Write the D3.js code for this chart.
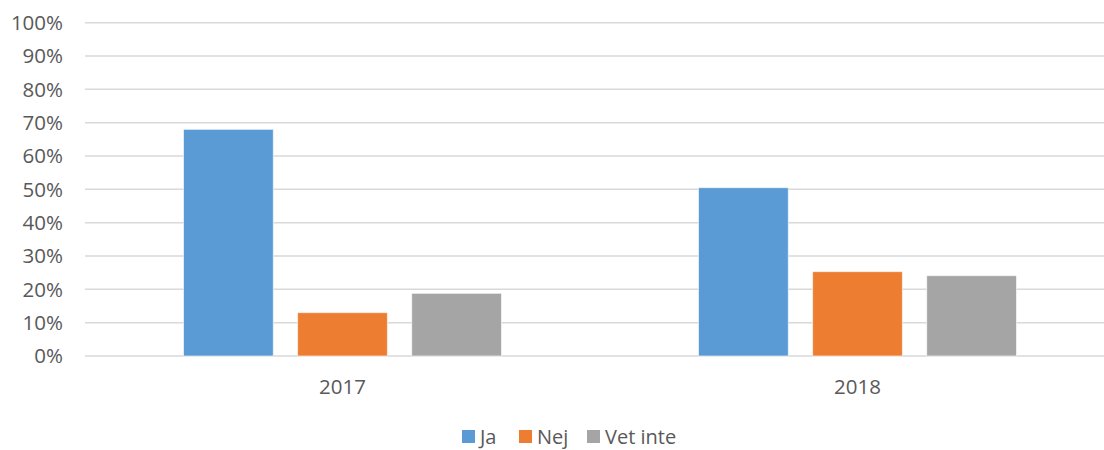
<!DOCTYPE html>
<meta charset="utf-8">
<style>
body { margin: 0; background: #fff; }
.axis text, .legend text { font-family: "Open Sans", sans-serif; fill: #595959; }
.grid line { stroke: #d9d9d9; stroke-width: 1.5px; }
</style>
<svg width="1104" height="450"></svg>
<script src="https://cdn.jsdelivr.net/npm/d3@7"></script>
<script>

var categories = ["2017", "2018"];
var series = ["Ja", "Nej", "Vet inte"];
var ja = [0.68, 0.505];
var nej = [0.13, 0.253];
var vetInte = [0.188, 0.241];
var yTicks = [0, 0.1, 0.2, 0.3, 0.4, 0.5, 0.6, 0.7, 0.8, 0.9, 1];
var colors = ["#5b9bd5", "#ed7d31", "#a5a5a5"];

var values = [ja, nej, vetInte];

var svg = d3.select("svg");

var y = d3.scaleLinear()
    .domain([0, 1])
    .range([356, 22.7]);

var x0 = d3.scaleBand()
    .domain(categories)
    .range([85, 1115]);

var x1 = d3.scaleBand()
    .domain(series)
    .range([98.5, x0.bandwidth() - 98.5])
    .paddingInner(0.213);

var color = d3.scaleOrdinal().domain(series).range(colors);

// gridlines
svg.append("g")
    .attr("class", "grid")
  .selectAll("line")
  .data(yTicks)
  .enter().append("line")
    .attr("x1", 85)
    .attr("x2", 1104)
    .attr("y1", function(d) { return y(d); })
    .attr("y2", function(d) { return y(d); });

// y labels
svg.append("g")
    .attr("class", "axis")
  .selectAll("text")
  .data(yTicks)
  .enter().append("text")
    .attr("x", 63)
    .attr("y", function(d) { return y(d); })
    .attr("dy", "0.36em")
    .attr("text-anchor", "end")
    .style("font-size", "20.5px")
    .text(function(d) { return d3.format(".0%")(d); });

// bars
var groups = svg.append("g")
  .selectAll("g")
  .data(categories)
  .enter().append("g")
    .attr("transform", function(d) { return "translate(" + x0(d) + ",0)"; });

groups.selectAll("rect")
  .data(function(d, i) {
    return series.map(function(s, j) { return { key: s, value: values[j][i] }; });
  })
  .enter().append("rect")
    .attr("x", function(d) { return x1(d.key); })
    .attr("y", function(d) { return y(d.value); })
    .attr("width", x1.bandwidth())
    .attr("height", function(d) { return y(0) - y(d.value); })
    .attr("fill", function(d) { return color(d.key); })
    .attr("stroke", "#fff")
    .attr("stroke-opacity", 0.6)
    .attr("stroke-width", 1);

// category labels
svg.append("g")
    .attr("class", "axis")
  .selectAll("text")
  .data(categories)
  .enter().append("text")
    .attr("x", function(d) { return x0(d) + x0.bandwidth() / 2; })
    .attr("y", 394)
    .attr("text-anchor", "middle")
    .style("font-size", "20.5px")
    .text(function(d) { return d; });

// legend
var legendX = [462, 519, 587];
var legend = svg.append("g")
    .attr("class", "legend")
  .selectAll("g")
  .data(series)
  .enter().append("g")
    .attr("transform", function(d, i) { return "translate(" + legendX[i] + ",430)"; });

legend.append("rect")
    .attr("width", 13)
    .attr("height", 13)
    .attr("fill", function(d) { return color(d); });

legend.append("text")
    .attr("x", 18)
    .attr("y", 6.5)
    .attr("dy", "0.36em")
    .style("font-size", "20px")
    .text(function(d) { return d; });

</script>
